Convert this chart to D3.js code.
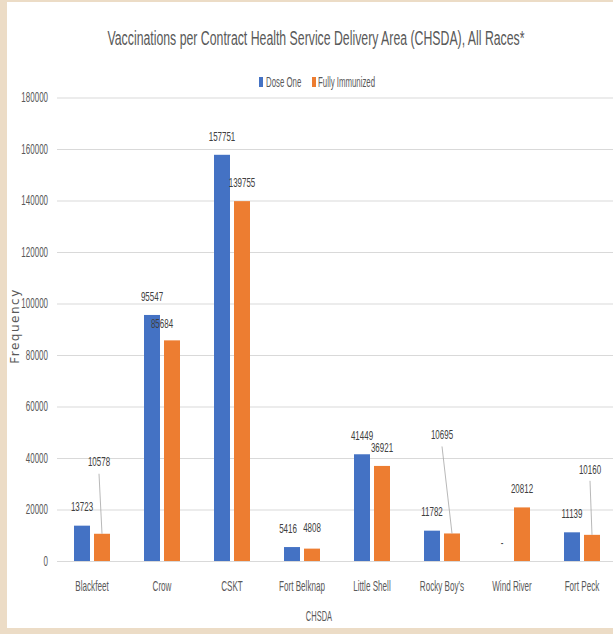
<!DOCTYPE html>
<html>
<head>
<meta charset="utf-8">
<script src="https://cdn.jsdelivr.net/npm/d3@7"></script>
<style>
  body { margin: 0; background: #ecdcc6; }
  svg { display: block; }
  text { font-family: "Liberation Sans", Arial, sans-serif; }
</style>
</head>
<body>
<svg width="613" height="634"></svg>
<script>
const categories = ["Blackfeet", "Crow", "CSKT", "Fort Belknap", "Little Shell", "Rocky Boy's", "Wind River", "Fort Peck"];
const series = ["Dose One", "Fully Immunized"];
const doseOne = [13723, 95547, 157751, 5416, 41449, 11782, null, 11139];
const fullyImmunized = [10578, 85684, 139755, 4808, 36921, 10695, 20812, 10160];
const yTicks = [0, 20000, 40000, 60000, 80000, 100000, 120000, 140000, 160000, 180000];

const colors = ["#4472C4", "#ED7D31"];

// label nudges (layout only)
const labelNudge = {
  "Blackfeet|1": { dx: -3, dy: -53, leader: true },
  "Crow|1": { dx: -10, dy: 2 },
  "Fort Belknap|0": { dx: -4, dy: 0 },
  "Fort Belknap|1": { dx: 0, dy: -2 },
  "Rocky Boy's|1": { dx: -10, dy: -80, leader: true },
  "Fort Peck|1": { dx: -2, dy: -47, leader: true }
};

// the original uses a narrow font; squeeze glyphs horizontally
function condense(sel, k) {
  sel.each(function() {
    const w = this.getComputedTextLength();
    d3.select(this).attr("textLength", w * k).attr("lengthAdjust", "spacingAndGlyphs");
  });
}

const svg = d3.select("svg");
svg.append("rect").attr("x", 7).attr("y", 2).attr("width", 606).attr("height", 626).attr("fill", "#fff");

const x0 = d3.scaleBand().domain(categories).range([57, 617]);
const x1 = d3.scaleBand().domain([0, 1]).range([0, 36]).paddingInner(0.2);
const y = d3.scaleLinear().domain([0, 180000]).range([561, 97.5]);

// grid + y labels
const yAxis = svg.append("g").attr("transform", "translate(57,0)")
  .call(d3.axisLeft(y).tickValues(yTicks).tickSize(-560).tickPadding(9).tickFormat(d3.format("d")));
yAxis.select(".domain").remove();
yAxis.selectAll(".tick line").attr("stroke", "#d9d9d9").attr("stroke-width", 1.2);
yAxis.selectAll(".tick text").attr("fill", "#595959").style("font-size", "14px")
  .style("font-family", "'Liberation Sans', sans-serif").call(condense, 0.57);

// x labels
const xAxis = svg.append("g").attr("transform", `translate(0,${y(0)})`)
  .call(d3.axisBottom(x0).tickSize(0).tickPadding(19));
xAxis.select(".domain").remove();
xAxis.selectAll(".tick text").attr("fill", "#595959").style("font-size", "15px")
  .style("font-family", "'Liberation Sans', sans-serif").call(condense, 0.54);

const rows = categories.map((c, i) => ({ cat: c, vals: [doseOne[i], fullyImmunized[i]] }));

const groups = svg.selectAll(".grp").data(rows).enter().append("g")
  .attr("transform", d => `translate(${x0(d.cat) + x0.bandwidth() / 2 - 18},0)`);

groups.selectAll("rect").data(d => d.vals.map((v, k) => ({ cat: d.cat, k, v })))
  .enter().append("rect")
  .attr("x", d => x1(d.k))
  .attr("width", x1.bandwidth())
  .attr("y", d => y(d.v || 0))
  .attr("height", d => y(0) - y(d.v || 0))
  .attr("fill", d => colors[d.k]);

// data labels
const labels = [];
rows.forEach(r => r.vals.forEach((v, k) => {
  const cx = x0(r.cat) + x0.bandwidth() / 2 - 18 + x1(k) + x1.bandwidth() / 2;
  const top = y(v || 0);
  const n = labelNudge[r.cat + "|" + k] || { dx: 0, dy: 0 };
  labels.push({ text: v == null ? "-" : String(v), bx: cx, btop: top, lx: cx + n.dx, ly: top - 19 + n.dy, leader: n.leader });
}));

svg.selectAll(".leader").data(labels.filter(d => d.leader)).enter().append("line")
  .attr("x1", d => d.lx).attr("y1", d => d.ly + 12)
  .attr("x2", d => d.bx).attr("y2", d => d.btop)
  .attr("stroke", "#a6a6a6").attr("stroke-width", 0.8);

svg.selectAll(".dlabel").data(labels).enter().append("text")
  .attr("x", d => d.lx).attr("y", d => d.ly)
  .attr("dy", "0.35em")
  .attr("text-anchor", "middle")
  .attr("fill", "#404040")
  .style("font-size", "13.5px")
  .text(d => d.text)
  .call(condense, 0.59);

// title
svg.append("text").attr("x", 316).attr("y", 38).attr("dy", "0.35em")
  .attr("text-anchor", "middle").attr("fill", "#595959").style("font-size", "20px")
  .text("Vaccinations per Contract Health Service Delivery Area (CHSDA), All Races*")
  .attr("textLength", 417).attr("lengthAdjust", "spacingAndGlyphs");

// legend
const legend = svg.append("g");
const legItems = [{ name: series[0], x: 259, tx: 266 }, { name: series[1], x: 312, tx: 318 }];
legend.selectAll("rect").data(legItems).enter().append("rect")
  .attr("x", d => d.x).attr("y", 77).attr("width", 4).attr("height", 10)
  .attr("fill", (d, i) => colors[i]);
legend.selectAll("text").data(legItems).enter().append("text")
  .attr("x", d => d.tx).attr("y", 82).attr("dy", "0.35em")
  .attr("fill", "#595959").style("font-size", "14px")
  .text(d => d.name)
  .call(condense, 0.56);

// axis titles
svg.append("text").attr("transform", "translate(15,326) rotate(-90)")
  .attr("text-anchor", "middle").attr("dy", "0.35em")
  .attr("fill", "#595959")
  .style("font-family", "'DejaVu Sans', sans-serif").style("font-size", "12px").style("letter-spacing", "1.5px")
  .text("Frequency");
svg.append("text").attr("x", 319).attr("y", 616).attr("dy", "0.35em")
  .attr("text-anchor", "middle").attr("fill", "#595959").style("font-size", "15px")
  .text("CHSDA")
  .call(condense, 0.5);
</script>
</body>
</html>
